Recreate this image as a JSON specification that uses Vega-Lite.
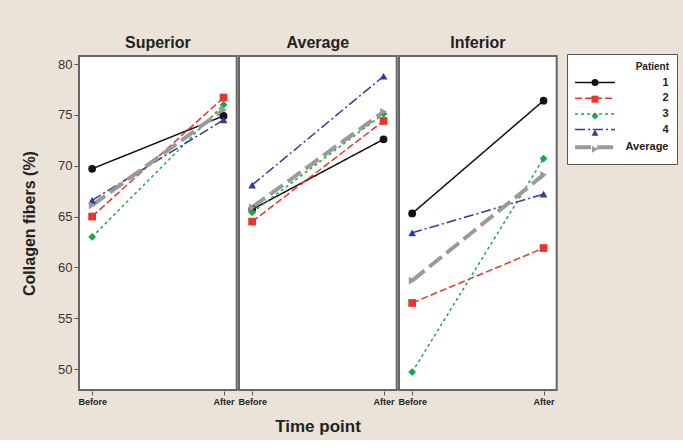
{
  "$schema": "https://vega.github.io/schema/vega-lite/v6.json",
  "background": "#ece3d8",
  "padding": {"left": 21, "top": 35, "right": 5, "bottom": 5},
  "data": {
    "values": [
      {"loc": "Superior", "time": "Before", "patient": "1", "p2": "s1", "value": 69.7},
      {"loc": "Superior", "time": "After", "patient": "1", "p2": "s1", "value": 74.9},
      {"loc": "Superior", "time": "Before", "patient": "2", "p2": "s2", "value": 65.0},
      {"loc": "Superior", "time": "After", "patient": "2", "p2": "s2", "value": 76.7},
      {"loc": "Superior", "time": "Before", "patient": "3", "p2": "s3", "value": 63.0},
      {"loc": "Superior", "time": "After", "patient": "3", "p2": "s3", "value": 76.0},
      {"loc": "Superior", "time": "Before", "patient": "4", "p2": "s4", "value": 66.6},
      {"loc": "Superior", "time": "After", "patient": "4", "p2": "s4", "value": 74.5},
      {"loc": "Superior", "time": "Before", "patient": "Average", "p2": "sAvg", "value": 66.1},
      {"loc": "Superior", "time": "After", "patient": "Average", "p2": "sAvg", "value": 75.5},
      {"loc": "Average", "time": "Before", "patient": "1", "p2": "s1", "value": 65.7},
      {"loc": "Average", "time": "After", "patient": "1", "p2": "s1", "value": 72.6},
      {"loc": "Average", "time": "Before", "patient": "2", "p2": "s2", "value": 64.5},
      {"loc": "Average", "time": "After", "patient": "2", "p2": "s2", "value": 74.4},
      {"loc": "Average", "time": "Before", "patient": "3", "p2": "s3", "value": 65.4},
      {"loc": "Average", "time": "After", "patient": "3", "p2": "s3", "value": 75.1},
      {"loc": "Average", "time": "Before", "patient": "4", "p2": "s4", "value": 68.1},
      {"loc": "Average", "time": "After", "patient": "4", "p2": "s4", "value": 78.8},
      {"loc": "Average", "time": "Before", "patient": "Average", "p2": "sAvg", "value": 65.9},
      {"loc": "Average", "time": "After", "patient": "Average", "p2": "sAvg", "value": 75.3},
      {"loc": "Inferior", "time": "Before", "patient": "1", "p2": "s1", "value": 65.3},
      {"loc": "Inferior", "time": "After", "patient": "1", "p2": "s1", "value": 76.4},
      {"loc": "Inferior", "time": "Before", "patient": "2", "p2": "s2", "value": 56.5},
      {"loc": "Inferior", "time": "After", "patient": "2", "p2": "s2", "value": 61.9},
      {"loc": "Inferior", "time": "Before", "patient": "3", "p2": "s3", "value": 49.7},
      {"loc": "Inferior", "time": "After", "patient": "3", "p2": "s3", "value": 70.7},
      {"loc": "Inferior", "time": "Before", "patient": "4", "p2": "s4", "value": 63.4},
      {"loc": "Inferior", "time": "After", "patient": "4", "p2": "s4", "value": 67.2},
      {"loc": "Inferior", "time": "Before", "patient": "Average", "p2": "sAvg", "value": 58.7},
      {"loc": "Inferior", "time": "After", "patient": "Average", "p2": "sAvg", "value": 69.1}
    ]
  },
  "facet": {
    "column": {
      "field": "loc",
      "type": "nominal",
      "sort": ["Superior", "Average", "Inferior"],
      "title": "Time point",
      "header": {"titleOrient": "bottom", "labelOrient": "top", "titleFontSize": 17, "titleFontWeight": "bold", "titleColor": "#222", "titleFont": "Liberation Sans", "titlePadding": 3, "labelFontSize": 16, "labelFontWeight": "bold", "labelColor": "#222", "labelFont": "Liberation Sans", "labelPadding": 4}
    }
  },
  "spacing": 0,
  "spec": {
    "width": 157.7,
    "height": 334,
    "layer": [
      {
        "mark": {"type": "line"},
        "encoding": {
          "x": {"field": "time", "type": "nominal", "sort": ["Before", "After"],
            "scale": {"type": "point", "padding": 0.1},
            "axis": {"title": null, "labelAngle": 0, "labelFontSize": 9, "labelFontWeight": "bold", "labelColor": "#222", "domain": false, "tickColor": "#555", "tickSize": 4, "labelFont": "Liberation Sans"}},
          "y": {"field": "value", "type": "quantitative",
            "scale": {"domain": [47.94, 80.79], "nice": false, "zero": false},
            "axis": {"title": "Collagen fibers (%)", "values": [50, 55, 60, 65, 70, 75, 80], "grid": false, "domain": false, "tickColor": "#555", "tickSize": 4, "labelPadding": 2, "labelFontSize": 13, "labelColor": "#333", "labelFont": "Liberation Sans", "titlePadding": 20, "titleFontSize": 16, "titleFontWeight": "bold", "titleColor": "#222", "titleFont": "Liberation Sans"}},
          "color": {"field": "patient", "type": "nominal", "title": "Patient",
            "scale": {"domain": ["1", "2", "3", "4", "Average"], "range": ["#111111", "#e8352b", "#1fa64a", "#2e3da0", "#9a9a9a"]},
            "legend": {"orient": "none", "legendX": 488, "legendY": -2, "symbolType": "M-5.7,0H5.7", "symbolSize": 49, "symbolOffset": 14.5, "labelAlign": "right", "labelOffset": 68, "titleAnchor": "end", "titleAlign": "right", "strokeColor": "#555", "fillColor": "#ffffff", "padding": 8, "labelFontSize": 11, "labelFontWeight": "bold", "titleFontSize": 10, "labelColor": "#222", "titleColor": "#222", "rowPadding": 3.7}},
          "strokeDash": {"field": "patient", "type": "nominal", "title": "Patient",
            "scale": {"domain": ["1", "2", "3", "4", "Average"], "range": [[1, 0], [7, 3], [3, 3], [10, 3, 2, 3], [16, 6]]}},
          "strokeWidth": {"field": "patient", "type": "nominal", "title": "Patient",
            "scale": {"type": "ordinal", "domain": ["1", "2", "3", "4", "Average"], "range": [1.5, 1.5, 1.5, 1.5, 4]}}
        }
      },
      {
        "mark": {"type": "point", "filled": true, "opacity": 1},
        "encoding": {
          "x": {"field": "time", "type": "nominal", "sort": ["Before", "After"]},
          "y": {"field": "value", "type": "quantitative"},
          "fill": {"field": "p2", "type": "nominal", "title": null,
            "scale": {"domain": ["s1", "s2", "s3", "s4", "sAvg"], "range": ["#111111", "#e8352b", "#1fa64a", "#2e3da0", "#9a9a9a"]},
            "legend": {"orient": "none", "legendX": 488, "legendY": 13, "symbolSize": 49, "symbolOffset": 14.5, "labelExpr": "''", "padding": 8, "labelFontSize": 11, "rowPadding": 3.7}},
          "shape": {"field": "p2", "type": "nominal", "title": null,
            "scale": {"domain": ["s1", "s2", "s3", "s4", "sAvg"], "range": ["circle", "square", "diamond", "triangle-up", "triangle-right"]}},
          "size": {"value": 60}
        }
      }
    ]
  },
  "config": {
    "view": {"stroke": "#666666", "strokeWidth": 2, "fill": "#ffffff"},
    "font": "Liberation Sans"
  }
}
